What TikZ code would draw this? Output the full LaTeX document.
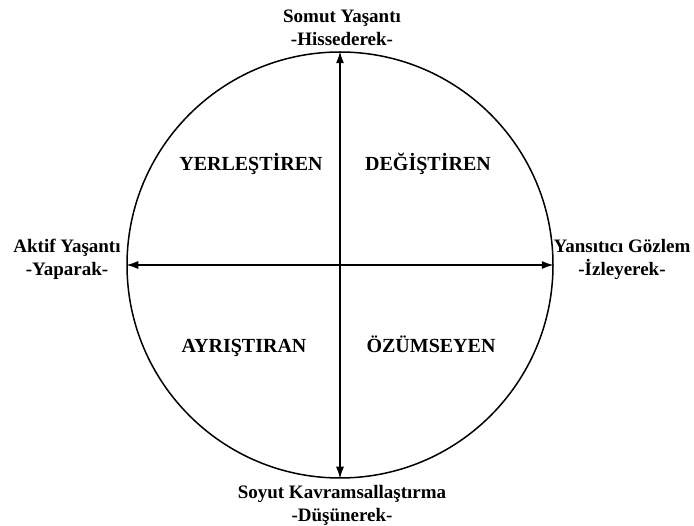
\documentclass[tikz,border=0pt]{standalone}
\usepackage{fontspec}
\setmainfont{Liberation Serif}
\usetikzlibrary{arrows.meta}
\tikzset{
  pole/.style={align=center, font=\fontsize{19}{23}\selectfont\bfseries, inner sep=0pt},
  quad/.style={anchor=base, font=\fontsize{20}{24}\selectfont\bfseries, inner sep=0pt},
  axis/.style={{Latex[length=12pt,width=8pt]}-{Latex[length=12pt,width=8pt]}, line width=1.5pt},
}
\begin{document}
\begin{tikzpicture}[x=1pt,y=-1pt]
\useasboundingbox (0,0) rectangle (694,526);
\node[circle, draw, line width=1.5pt, minimum size=426pt, inner sep=0pt] (cycle) at (340,265) {};
\node[pole] (top) at (342,28) {Somut Yaşantı\\-Hissederek-};
\node[pole] (bot) at (342,505) {Soyut Kavramsallaştırma\\-Düşünerek-};
\node[pole] (left) at (67,259) {Aktif Yaşantı\\-Yaparak-};
\node[pole] (right) at (622,259) {Yansıtıcı Gözlem\\-İzleyerek-};
\node[quad] (yer) at (251,171) {YERLEŞTİREN};
\node[quad] (deg) at (428,171) {DEĞİŞTİREN};
\node[quad] (ayr) at (244,353) {AYRIŞTIRAN};
\node[quad] (ozu) at (431,353) {ÖZÜMSEYEN};
\draw[axis] (cycle.north) -- (cycle.south);
\draw[axis] (cycle.west) -- (cycle.east);
\end{tikzpicture}
\end{document}
